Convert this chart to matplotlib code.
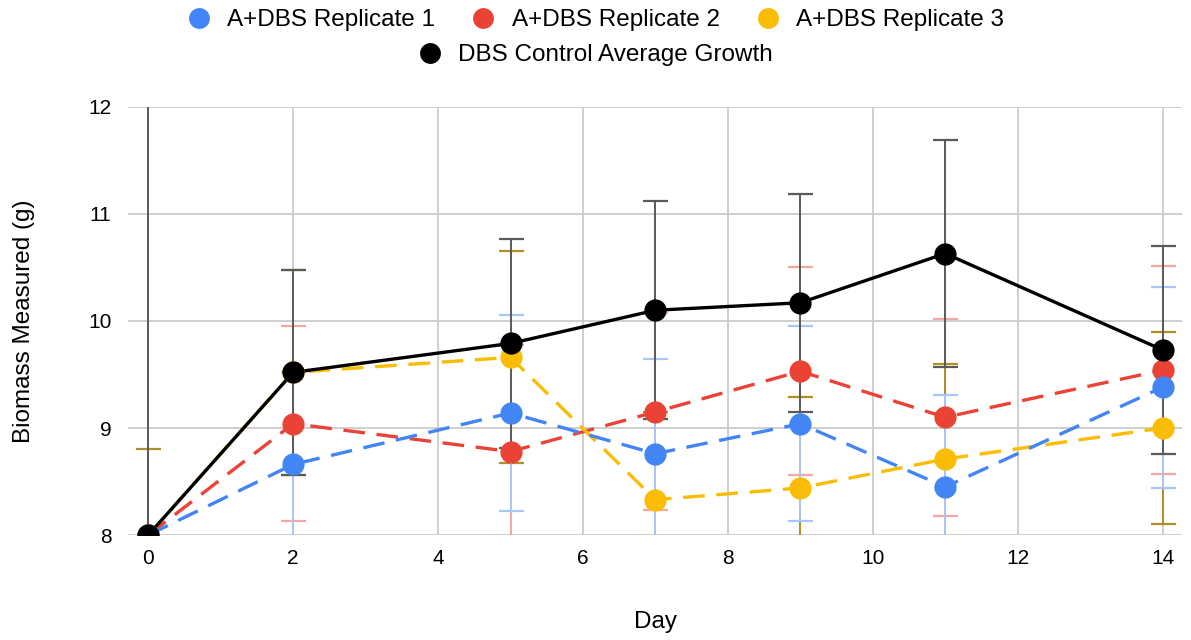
import numpy as np
import matplotlib.pyplot as plt
from matplotlib.lines import Line2D

plt.rcParams['font.family'] = ['Liberation Sans', 'DejaVu Sans']

days = [0, 2, 5, 7, 9, 11, 14]

rep1 = [8.0, 8.66, 9.14, 8.76, 9.04, 8.45, 9.38]
rep1_err = [0.0, 0.86, 0.92, 0.88, 0.91, 0.86, 0.94]
rep2 = [8.0, 9.04, 8.78, 9.15, 9.53, 9.10, 9.54]
rep2_err = [0.0, 0.91, 1.00, 0.92, 0.97, 0.92, 0.97]
rep3 = [8.0, 9.52, 9.66, 8.33, 8.44, 8.71, 9.00]
rep3_err = [0.8, 0.96, 0.99, 0.82, 0.85, 0.89, 0.90]
ctrl = [8.0, 9.52, 9.79, 10.10, 10.17, 10.63, 9.73]
ctrl_err = [4.2, 0.96, 0.98, 1.02, 1.02, 1.06, 0.97]

labels = ['A+DBS Replicate 1', 'A+DBS Replicate 2', 'A+DBS Replicate 3',
          'DBS Control Average Growth']

blue, red, yellow, black = '#4285F4', '#EA4335', '#FBBC04', '#000000'
err_cols = {'blue': '#a9c6f9', 'red': '#f5a8a3', 'yellow': '#b08d25', 'black': '#5a5a5a'}

fig = plt.figure(figsize=(11.91, 6.4), dpi=100)
ax = fig.add_axes([0.1075, 0.164, 0.885, 0.669])

series = [
    # (values, errors, colour, error colour, dashed, z)
    (rep2, rep2_err, red, err_cols['red'], True, 4),
    (rep3, rep3_err, yellow, err_cols['yellow'], True, 5),
    (rep1, rep1_err, blue, err_cols['blue'], True, 6),
    (ctrl, ctrl_err, black, err_cols['black'], False, 7),
]

x = np.array(days, dtype=float)
for vals, errs, col, ecol, dashed, z in series:
    v = np.array(vals)
    e = np.array(errs)
    m = e > 0
    ax.errorbar(x[m], v[m], yerr=e[m], fmt='none', ecolor=ecol,
                elinewidth=1.4, capsize=9, capthick=1.6, zorder=2)
for vals, errs, col, ecol, dashed, z in series:
    ls = (0, (6.5, 3.5)) if dashed else '-'
    ax.plot(x, vals, color=col, lw=2.4, ls=ls, zorder=z)
for vals, errs, col, ecol, dashed, z in series:
    ax.plot(x, vals, 'o', color=col, ms=16, mec='none', zorder=z + 10)

ax.set_xlim(-0.28, 14.27)
ax.set_ylim(8, 12)
ax.set_xticks(range(0, 15, 2))
ax.set_yticks(range(8, 13))
ax.grid(True, color='#cccccc', lw=1.3)
ax.set_axisbelow(True)
for s in ax.spines.values():
    s.set_visible(False)
ax.tick_params(length=0, labelsize=15, colors='#000000', pad=10)
ax.tick_params(axis='y', pad=12)
ax.set_xlabel('Day', fontsize=17.5, labelpad=31)
ax.set_ylabel('Biomass Measured (g)', fontsize=17.5, labelpad=38)

def dot(c):
    return Line2D([], [], marker='o', ls='none', color=c, mec='none', ms=15)

leg1 = fig.legend([dot(blue), dot(red), dot(yellow)], labels[:3], loc='center',
                  bbox_to_anchor=(0.5, 0.968), ncol=3, frameon=False, fontsize=17.5,
                  handlelength=1.0, handletextpad=0.66, columnspacing=1.5)
leg2 = fig.legend([dot(black)], labels[3:], loc='center',
                  bbox_to_anchor=(0.5, 0.914), frameon=False, fontsize=17.5,
                  handlelength=1.0, handletextpad=0.66)

fig.savefig('out.png', dpi=100)
